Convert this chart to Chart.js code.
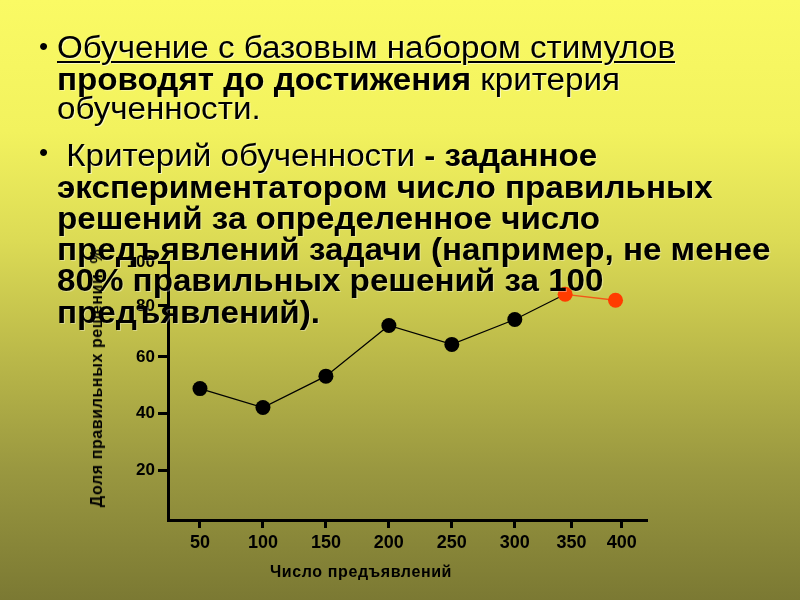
<!DOCTYPE html>
<html>
<head>
<meta charset="utf-8">
<script src="https://cdn.jsdelivr.net/npm/chart.js@4.4.1/dist/chart.umd.min.js"></script>
<style>
  html, body { margin: 0; padding: 0; }
  body {
    width: 800px; height: 600px; overflow: hidden; position: relative;
    background: linear-gradient(to bottom, #fafa64 0%, #f2f25e 22%, #dcdb55 40%, #bdbb4a 58%, #9a9840 78%, #7b7933 100%);
    font-family: 'Liberation Sans', Arial, sans-serif;
  }
  #wrap { position: absolute; left: 0; top: 0; width: 800px; height: 600px; }
  .txt { position: absolute; left: 57px; color: #000; font-size: 31px; line-height: 31px; white-space: nowrap; transform: scaleX(1.07); transform-origin: left top; }
  .bul { position: absolute; left: 39px; font-size: 26px; line-height: 26px; }
  .n { text-shadow: 1px 1px 0 rgba(255,255,255,0.6); }
  .b { font-weight: bold; text-shadow: 1px 1px 0 rgba(255,255,255,0.35); }
  .u { text-decoration: underline; text-decoration-thickness: 2px; text-underline-offset: 3px; }
  .axt { position: absolute; font-weight: bold; font-size: 16px; letter-spacing: 0.6px; white-space: nowrap; color: #000; }
</style>
</head>
<body>
<div id="wrap"><canvas id="chart" width="800" height="600"></canvas></div>

<div class="bul" style="top:33px">•</div>
<div class="txt n" style="top:32px"><span class="u">Обучение с базовым набором стимулов</span></div>
<div class="txt" style="top:64px"><span class="b">проводят до достижения</span><span class="n"> критерия</span></div>
<div class="txt n" style="top:93px">обученности.</div>

<div class="bul" style="top:139px">•</div>
<div class="txt" style="top:140px"><span class="n">&nbsp;Критерий обученности</span><span class="b"> - заданное</span></div>
<div class="txt b" style="top:172px">экспериментатором число правильных</div>
<div class="txt b" style="top:203px">решений за определенное число</div>
<div class="txt b" style="top:234px">предъявлений задачи (например, не менее</div>
<div class="txt b" style="top:265px">80% правильных решений за 100</div>
<div class="txt b" style="top:297px">предъявлений).</div>

<div class="axt" style="left:270px; top:563px;">Число предъявлений</div>
<div class="axt" style="left:97px; top:378px; transform: translate(-50%, -50%) rotate(-90deg);">Доля правильных решений, %</div>

<script>
// tick positions as they sit on the original drawing
const xTickValues = [50, 100, 150, 200, 250, 300, 345, 385];
const xTickLabels = ['50', '100', '150', '200', '250', '300', '350', '400'];
const yTickValues = [20, 40, 60, 78, 93.5];
const yTickLabels = ['20', '40', '60', '80', '100'];

// training series (black) and the later series (red)
const trainX = [50, 100, 150, 200, 250, 300];
const trainY = [48.8, 42.1, 53.2, 71.1, 64.4, 73.2];
const laterX = [340, 380];
const laterY = [82.1, 80.0];

const toPoints = (xs, ys) => xs.map((x, i) => ({ x: x, y: ys[i] }));

// black line runs on into the first red point
const blackPoints = toPoints(trainX, trainY).concat([{ x: laterX[0], y: laterY[0] }]);

const tickFont = { family: 'Liberation Sans', weight: 'bold', size: 17 };

const ctx = document.getElementById('chart').getContext('2d');
const chart = new Chart(ctx, {
    type: 'line',
    data: {
        datasets: [{
            data: toPoints(laterX, laterY),
            borderColor: '#f25818',
            borderWidth: 1.3,
            pointRadius: 7.5,
            pointBackgroundColor: '#ff3c00',
            pointBorderWidth: 0
        }, {
            data: blackPoints,
            borderColor: '#000',
            borderWidth: 1.2,
            pointRadius: (c) => c.dataIndex < trainX.length ? 7.5 : 0,
            pointBackgroundColor: '#000',
            pointBorderWidth: 0
        }]
    },
    options: {
        responsive: false,
        animation: false,
        clip: false,
        layout: {
            padding: { left: 100, top: 262, right: 153, bottom: 40 }
        },
        plugins: {
            legend: { display: false },
            tooltip: { enabled: false }
        },
        scales: {
            x: {
                type: 'linear',
                min: 24.6,
                max: 405,
                afterBuildTicks: (scale) => { scale.ticks = xTickValues.map(v => ({ value: v })); },
                afterFit: (scale) => { scale.height = 40; },
                ticks: {
                    color: '#000',
                    font: { family: 'Liberation Sans', weight: 'bold', size: 18 },
                    padding: 4,
                    maxRotation: 0,
                    autoSkip: false,
                    callback: (value, index) => xTickLabels[index]
                },
                grid: {
                    drawOnChartArea: false,
                    drawTicks: true,
                    tickLength: 8,
                    tickWidth: 3,
                    tickColor: '#000'
                },
                border: { display: true, color: '#000', width: 3 }
            },
            y: {
                min: 2.4,
                max: 93.5,
                afterBuildTicks: (scale) => { scale.ticks = yTickValues.map(v => ({ value: v })); },
                afterFit: (scale) => { scale.width = 68; },
                ticks: {
                    color: '#000',
                    font: tickFont,
                    padding: 3,
                    autoSkip: false,
                    callback: (value, index) => yTickLabels[index]
                },
                grid: {
                    drawOnChartArea: false,
                    drawTicks: true,
                    tickLength: 10,
                    tickWidth: 3,
                    tickColor: '#000'
                },
                border: { display: true, color: '#000', width: 3 }
            }
        }
    }
});
</script>
</body>
</html>
